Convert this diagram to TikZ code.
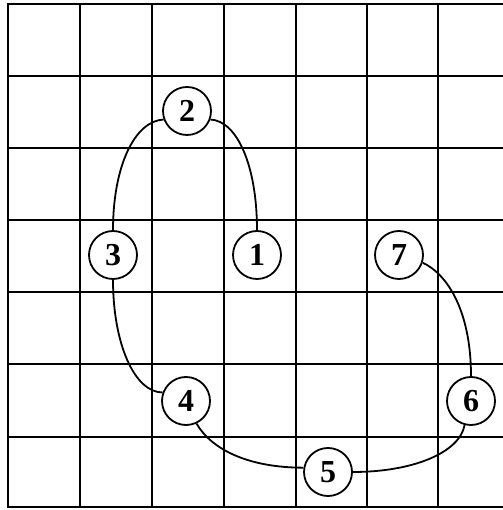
\documentclass[tikz,border=0pt]{standalone}
\usepackage{fontspec}
\setmainfont{Liberation Serif}
\begin{document}
\begin{tikzpicture}[x=1pt,y=1pt,
  gridline/.style={line width=2.3pt, line cap=rect},
  num/.style={circle, draw, line width=1.8pt, fill=white, minimum size=48pt, inner sep=0pt,
     font=\fontsize{32}{32}\selectfont\bfseries},
  link/.style={line width=1.8pt}]
\useasboundingbox (0,0) rectangle (502,510);
% grid
\foreach \x in {8,80,152,224,296,367,438} \draw[gridline] (\x,3) -- (\x,506);
\foreach \y in {3,73,146,218,290,362,434,506} \draw[gridline] (8,\y) -- (502,\y);
% nodes
\node[num] (n1) at (257,255) {1};
\node[num] (n2) at (187,399) {2};
\node[num] (n3) at (113,255) {3};
\node[num] (n4) at (186,109) {4};
\node[num] (n5) at (328,38) {5};
\node[num] (n6) at (471,109) {6};
\node[num] (n7) at (399,255) {7};
% connectors
\draw[link] (n2.-20) .. controls +(-3:27) and +(0,64) .. (n1.north);
\draw[link] (n2.200) .. controls +(183:29) and +(0,64) .. (n3.north);
\draw[link] (n3.south) .. controls +(0,-64) and +(-28,0) .. (n4.160);
\draw[link] (n4.-65) .. controls +(-60:30) and +(-55,0) .. (n5.170);
\draw[link] (n5.east) .. controls +(60,0) and +(-100:28) .. (n6.-105);
\draw[link] (n6.north) .. controls +(0,64) and +(-25:28) .. (n7.-18);
\end{tikzpicture}
\end{document}
